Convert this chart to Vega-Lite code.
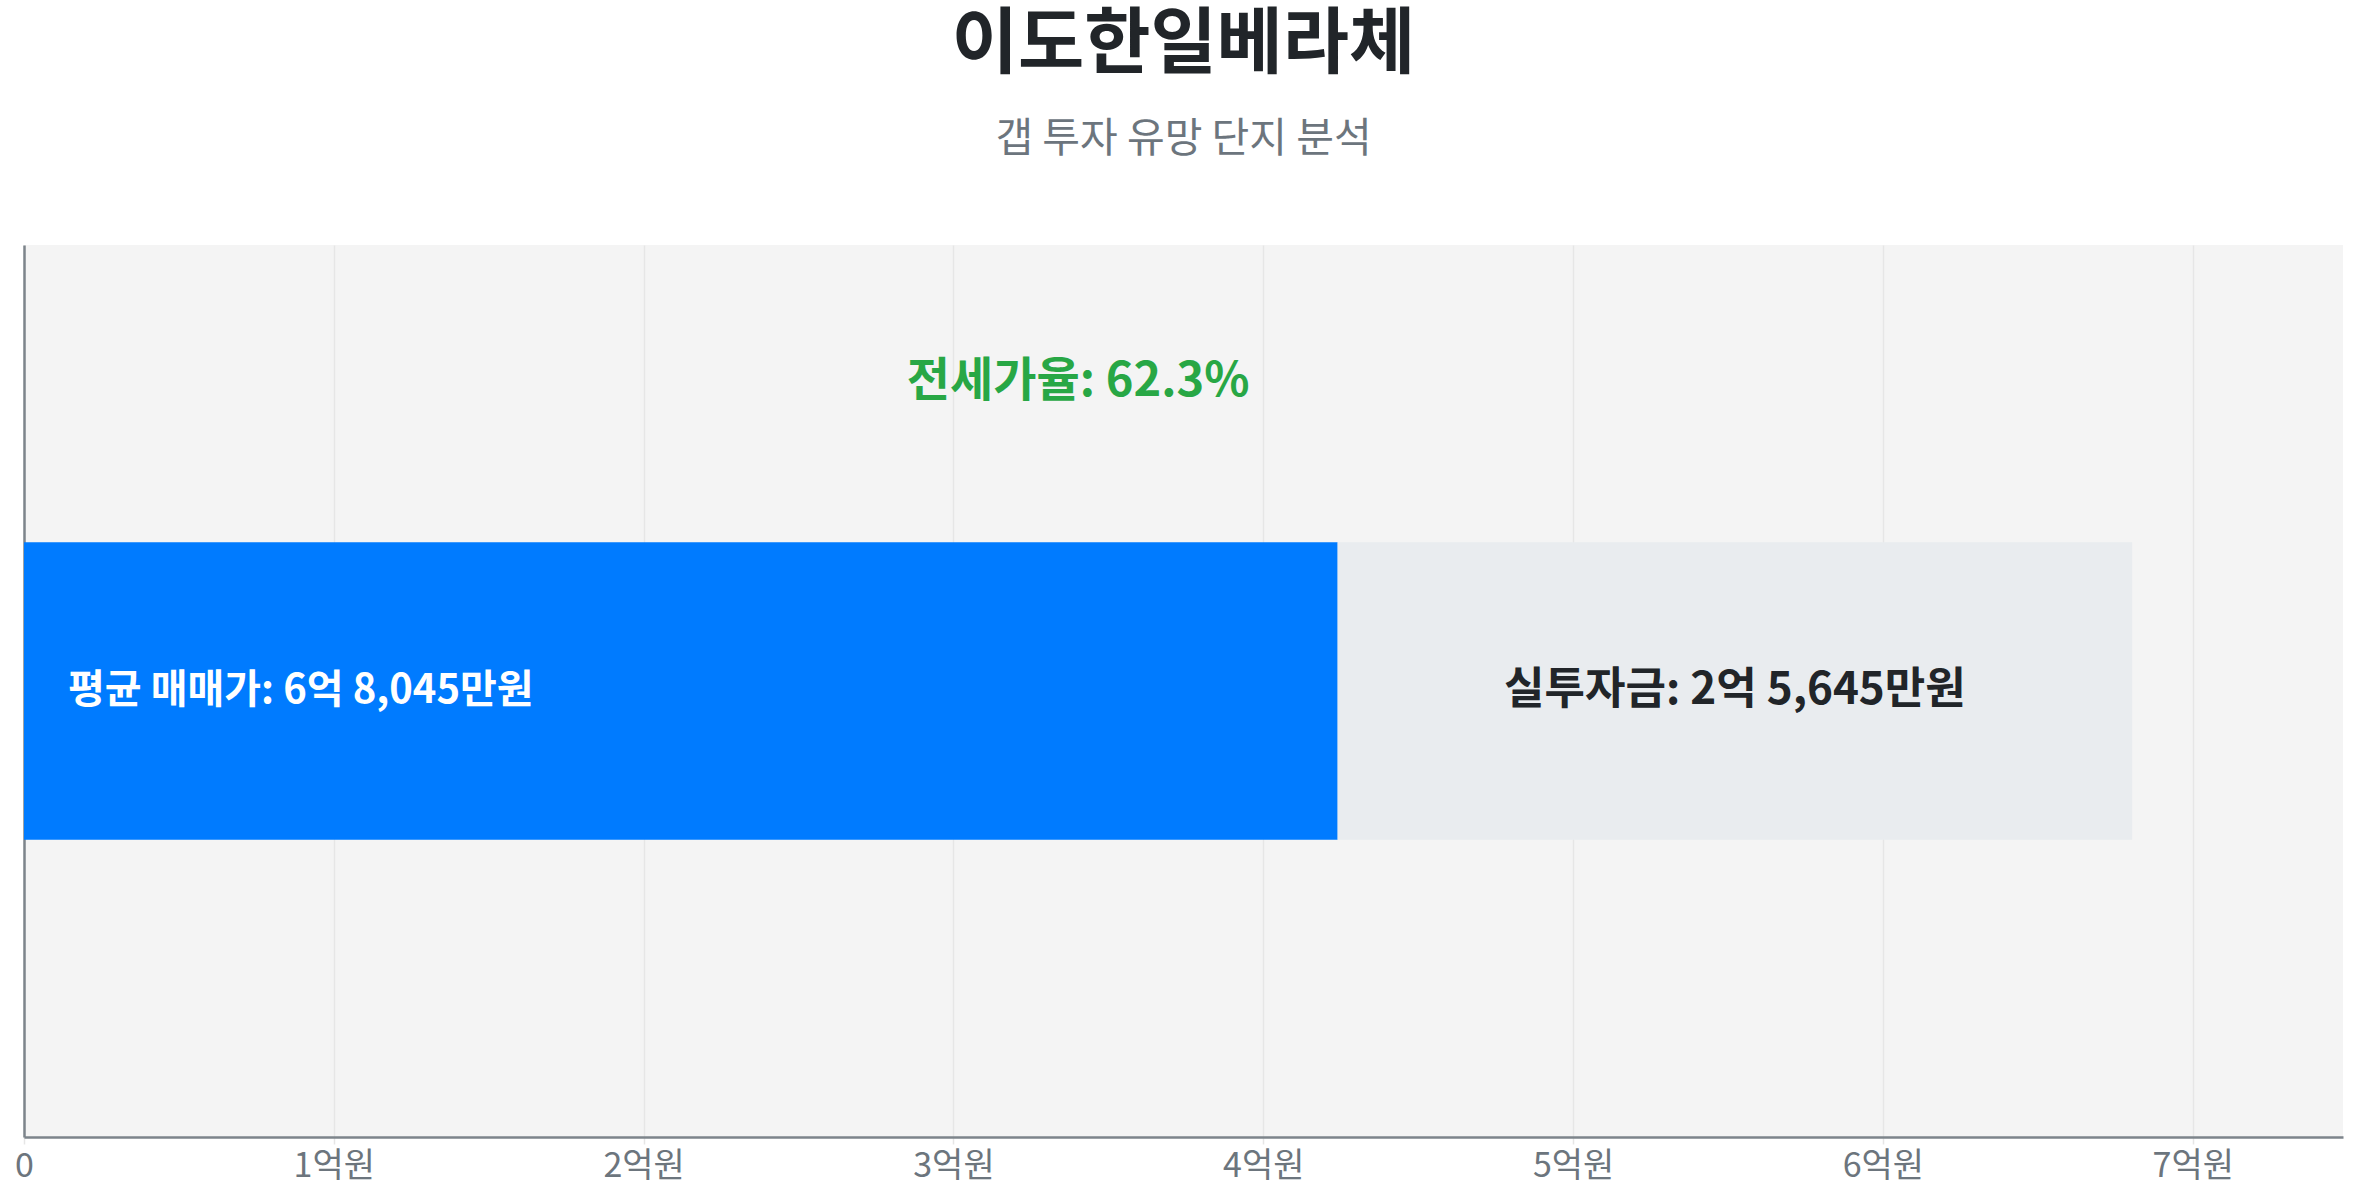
{
  "$schema": "https://vega.github.io/schema/vega-lite/v6.json",
  "width": 2319,
  "height": 892,
  "autosize": {"type": "none"},
  "padding": {"left": 24, "top": 245, "right": 14, "bottom": 63},
  "background": "#ffffff",
  "title": {
    "text": "이도한일베라체",
    "subtitle": "갭 투자 유망 단지 분석",
    "anchor": "middle",
    "font": "Noto Sans CJK KR",
    "fontSize": 72,
    "fontWeight": "bold",
    "color": "#212529",
    "subtitleFont": "Noto Sans CJK KR",
    "subtitleFontSize": 41,
    "subtitleColor": "#6c757d",
    "subtitlePadding": 38,
    "offset": 84
  },
  "datasets": {
    "bars": [
      {"구분": "전세금", "시작": 0, "끝": 4.24, "라벨": "평균 매매가: 6억 8,045만원"},
      {"구분": "실투자금", "시작": 4.24, "끝": 6.8045, "라벨": "실투자금: 2억 5,645만원"}
    ]
  },
  "data": {"name": "bars"},
  "layer": [
    {
      "mark": {"type": "bar", "cornerRadius": 0},
      "encoding": {
        "x": {
          "field": "시작",
          "type": "quantitative",
          "title": null,
          "scale": {"domain": [0, 7.485], "nice": false, "zero": true},
          "axis": {
            "values": [0, 1, 2, 3, 4, 5, 6, 7],
            "labelExpr": "datum.value == 0 ? '0' : datum.value + '억원'",
            "labelFont": "Noto Sans CJK KR",
            "labelFontSize": 34,
            "labelColor": "#6c757d",
            "labelPadding": 5,
            "labelFlush": false,
            "labelOverlap": false,
            "grid": true,
            "gridColor": "#e6e6e6",
            "gridWidth": 1.5,
            "tickColor": "#e6e6e6",
            "tickSize": 7,
            "tickWidth": 1.5,
            "domainColor": "#7d848b",
            "domainWidth": 2.5
          }
        },
        "x2": {"field": "끝"},
        "y": {
          "datum": 1,
          "type": "quantitative",
          "title": null,
          "scale": {"domain": [0, 3], "nice": false},
          "axis": {
            "labels": false,
            "ticks": false,
            "grid": false,
            "domainColor": "#7d848b",
            "domainWidth": 2.5
          }
        },
        "y2": {"datum": 2},
        "color": {
          "field": "구분",
          "type": "nominal",
          "scale": {"domain": ["전세금", "실투자금"], "range": ["#007bff", "#e9ecef"]},
          "legend": null
        }
      }
    },
    {
      "transform": [{"filter": "datum['구분'] == '전세금'"}],
      "mark": {
        "type": "text",
        "align": "left",
        "baseline": "middle",
        "dx": 44,
        "font": "Noto Sans CJK KR",
        "fontSize": 40,
        "fontWeight": "bold",
        "color": "#ffffff"
      },
      "encoding": {
        "x": {"field": "시작", "type": "quantitative"},
        "y": {"datum": 1.5, "type": "quantitative"},
        "text": {"field": "라벨"}
      }
    },
    {
      "transform": [{"filter": "datum['구분'] == '실투자금'"}],
      "mark": {
        "type": "text",
        "align": "center",
        "baseline": "middle",
        "font": "Noto Sans CJK KR",
        "fontSize": 44,
        "fontWeight": "bold",
        "color": "#212529"
      },
      "encoding": {
        "x": {"datum": 5.5223, "type": "quantitative"},
        "y": {"datum": 1.5, "type": "quantitative"},
        "text": {"field": "라벨"}
      }
    },
    {
      "data": {"values": [{"라벨": "전세가율: 62.3%"}]},
      "mark": {
        "type": "text",
        "align": "center",
        "baseline": "middle",
        "font": "Noto Sans CJK KR",
        "fontSize": 47,
        "fontWeight": "bold",
        "color": "#28a745"
      },
      "encoding": {
        "x": {"datum": 3.40225, "type": "quantitative"},
        "y": {"datum": 2.54, "type": "quantitative"},
        "text": {"field": "라벨"}
      }
    }
  ],
  "config": {
    "view": {"fill": "#f4f4f4", "stroke": null}
  }
}
